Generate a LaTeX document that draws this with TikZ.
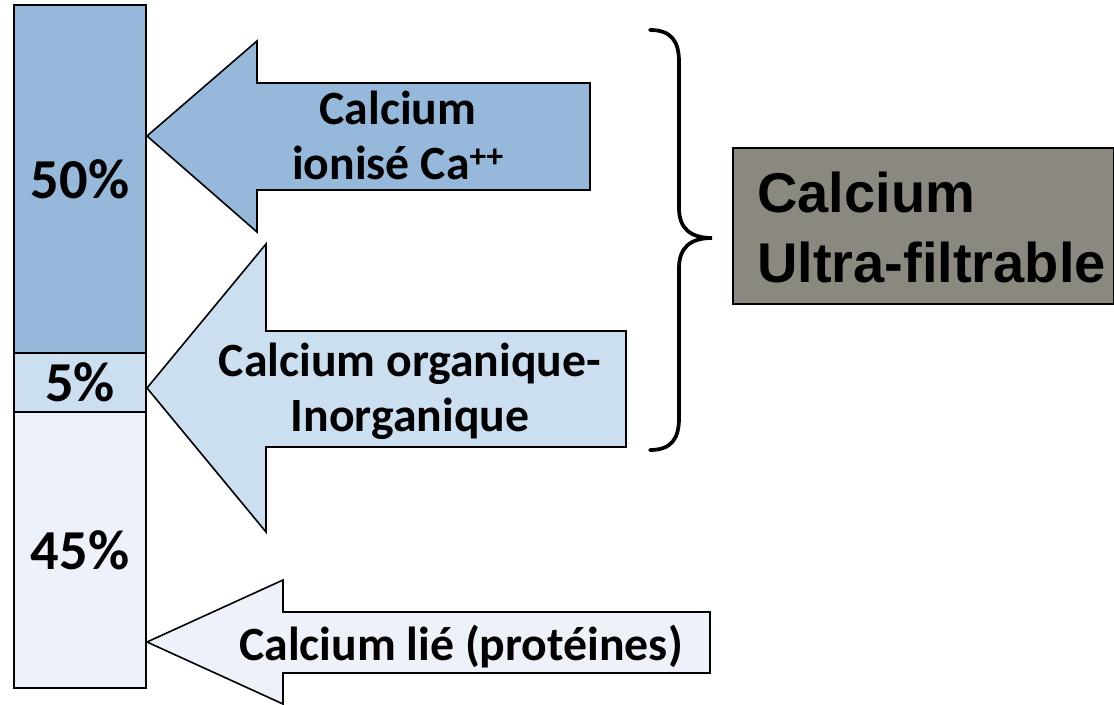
\documentclass[tikz,border=0pt]{standalone}
\usepackage{fontspec}
\setmainfont{Carlito}
\newfontfamily\arialfont{Liberation Sans}
\definecolor{cA}{HTML}{95B8DB}
\definecolor{cB}{HTML}{CCDFF1}
\definecolor{cC}{HTML}{EDF2FA}
\definecolor{cG}{HTML}{8B887F}
\tikzset{
  seg/.style={draw=black, line width=1.6pt, anchor=north west, outer sep=0pt, inner sep=0pt, minimum width=132*0.75pt},
  pct/.style={anchor=base, inner sep=0pt, font=\fontsize{42.3}{50}\selectfont\bfseries},
  arrowshape/.style={draw=black, line width=1.2pt, line join=miter},
  lbl/.style={anchor=base, inner sep=0pt, font=\fontsize{35.8}{43}\selectfont\bfseries},
  ufbox/.style={draw=black, line width=1.2pt, fill=cG, anchor=north west, inner sep=0pt, outer sep=0pt},
  uftext/.style={anchor=base west, inner sep=0pt, font=\arialfont\fontsize{42}{50}\selectfont\bfseries},
  bracestyle/.style={draw=black, line width=2.8pt, line cap=round}
}
\begin{document}
\begin{tikzpicture}[x=0.75pt,y=-0.75pt]
\useasboundingbox (0,0) rectangle (1114,705);
% arrows
\draw[arrowshape, fill=cA] (147,136) -- (257,41) -- (257,83) -- (590,83) -- (590,190) -- (257,190) -- (257,232) -- cycle;
\draw[arrowshape, fill=cB] (147,388) -- (266,244) -- (266,331) -- (626,331) -- (626,447) -- (266,447) -- (266,532) -- cycle;
\draw[arrowshape, fill=cC] (147,642) -- (283,580) -- (283,612) -- (710,612) -- (710,673) -- (283,673) -- (283,704) -- cycle;
% bar
\node[seg, fill=cA, minimum height=348*0.75pt] (s50) at (14,5) {};
\node[seg, fill=cB, minimum height=59*0.75pt] (s5) at (14,353) {};
\node[seg, fill=cC, minimum height=276*0.75pt] (s45) at (14,412) {};
\node[pct] (p50) at (80,199) {50\%};
\node[pct] (p5) at (80,402) {5\%};
\node[pct] (p45) at (80,570) {45\%};
% arrow labels
\node[lbl] (l1a) at (398,125) {Calcium};
\node[lbl] (l1b) at (398,180) {ionisé Ca\textsuperscript{++}};
\node[lbl] (l2a) at (410,377) {Calcium organique-};
\node[lbl] (l2b) at (410,432) {Inorganique};
\node[lbl] (l3) at (461,660) {Calcium lié (protéines)};
% brace
\draw[bracestyle] (650,30) .. controls (672,30) and (679,42) .. (679,62) -- (679,208)
  .. controls (679,228) and (690,238) .. (712,238)
  .. controls (690,238) and (679,248) .. (679,268) -- (679,418)
  .. controls (679,438) and (672,450) .. (650,450);
% ultra-filtrable box
\node[ufbox, minimum width=381*0.75pt, minimum height=156*0.75pt] (uf) at (733,148) {};
\node[uftext] (uf1) at (757,213) {Calcium};
\node[uftext] (uf2) at (757,283) {Ultra-filtrable};
\end{tikzpicture}
\end{document}
